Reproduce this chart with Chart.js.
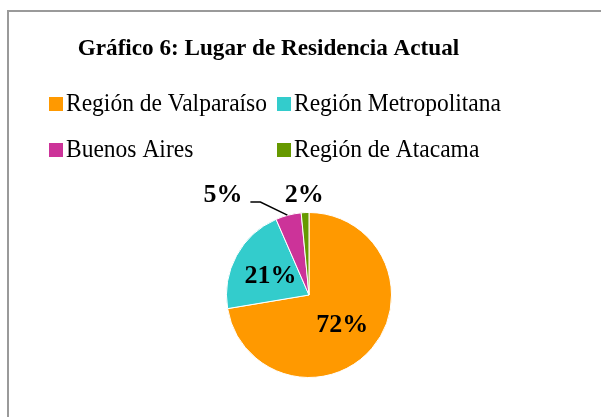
<!DOCTYPE html>
<html>
<head>
<meta charset="utf-8">
<script src="https://cdn.jsdelivr.net/npm/chart.js@4"></script>
<style>
  html, body { margin: 0; padding: 0; background: #fff; overflow: hidden; }
  #wrap { position: relative; width: 601px; height: 417px; }
</style>
</head>
<body>
<div id="wrap"><canvas id="myChart" width="601" height="417"></canvas></div>
<script>
  const chartTitle = 'Gráfico 6: Lugar de Residencia Actual';
  const regions = ['Región de Valparaíso', 'Región Metropolitana', 'Buenos Aires', 'Región de Atacama'];
  const shares = [72, 21, 5, 1.5];
  const colors = ['#FF9900', '#33CCCC', '#CC3399', '#669900'];
  // 0 = inside, 1 = above the pie, 2 = above with leader line
  const labelMode = [0, 0, 2, 1];

  const serif = '"Liberation Serif", "Times New Roman", serif';

  // text squeezed a little horizontally, like the Word export
  function squeezedText(ctx, txt, x, y, sx) {
    ctx.save();
    ctx.translate(x, y);
    ctx.scale(sx, 1);
    ctx.fillText(txt, 0, 0);
    ctx.restore();
  }

  const decor = {
    id: 'decor',
    beforeDraw(chart) {
      const ctx = chart.ctx;
      ctx.save();
      ctx.strokeStyle = '#9a9a9a';
      ctx.lineWidth = 2;
      ctx.strokeRect(8, 11, 800, 600);

      ctx.fillStyle = '#000';
      ctx.font = 'bold 24px ' + serif;
      ctx.textAlign = 'center';
      ctx.textBaseline = 'alphabetic';
      squeezedText(ctx, chartTitle, 268.5, 55, 0.965);

      ctx.font = '25px ' + serif;
      ctx.textAlign = 'left';
      const cols = [49, 277];
      const rows = [111, 157];
      regions.forEach((name, i) => {
        const x = cols[i % 2], y = rows[Math.floor(i / 2)];
        ctx.fillStyle = colors[i];
        ctx.fillRect(x, y - 14, 14, 14);
        ctx.fillStyle = '#000';
        squeezedText(ctx, name, x + 17, y, 0.94);
      });
      ctx.restore();
    },
    afterDatasetsDraw(chart) {
      const ctx = chart.ctx;
      const meta = chart.getDatasetMeta(0);
      const values = chart.data.datasets[0].data;
      const total = values.reduce((a, b) => a + b, 0);
      ctx.save();
      ctx.font = 'bold 26px ' + serif;
      ctx.fillStyle = '#000';
      ctx.textBaseline = 'alphabetic';
      meta.data.forEach((arc, i) => {
        const txt = Math.round(values[i] / total * 100) + '%';
        const mid = (arc.startAngle + arc.endAngle) / 2;
        const R = arc.outerRadius;
        if (labelMode[i] === 0) {
          const r = R * 0.53;
          ctx.textAlign = 'center';
          ctx.fillText(txt, arc.x + Math.cos(mid) * r, arc.y + Math.sin(mid) * r + 8.5);
        } else if (labelMode[i] === 1) {
          const r = R + 20;
          ctx.textAlign = 'center';
          ctx.fillText(txt, arc.x + Math.cos(mid) * r, arc.y + Math.sin(mid) * r + 9);
        } else {
          const px = arc.x + Math.cos(mid) * R;
          const py = arc.y + Math.sin(mid) * R;
          ctx.strokeStyle = '#000';
          ctx.lineWidth = 1.5;
          ctx.beginPath();
          ctx.moveTo(px - 1, py);
          ctx.lineTo(px - 28, py - 13);
          ctx.lineTo(px - 38, py - 13);
          ctx.stroke();
          ctx.textAlign = 'right';
          ctx.fillText(txt, px - 46, py - 13);
        }
      });
      ctx.restore();
    }
  };

  const data = {
    labels: regions,
    datasets: [{
      data: shares,
      backgroundColor: colors,
      borderColor: '#ffffff',
      borderWidth: 1
    }]
  };

  const config = {
    type: 'pie',
    data: data,
    options: {
      responsive: false,
      animation: false,
      layout: {
        padding: { top: 212, bottom: 39, left: 226, right: 209 }
      },
      plugins: {
        legend: { display: false },
        title: { display: false },
        tooltip: { enabled: false }
      }
    },
    plugins: [decor]
  };

  const myChart = new Chart(document.getElementById('myChart'), config);
</script>
</body>
</html>
